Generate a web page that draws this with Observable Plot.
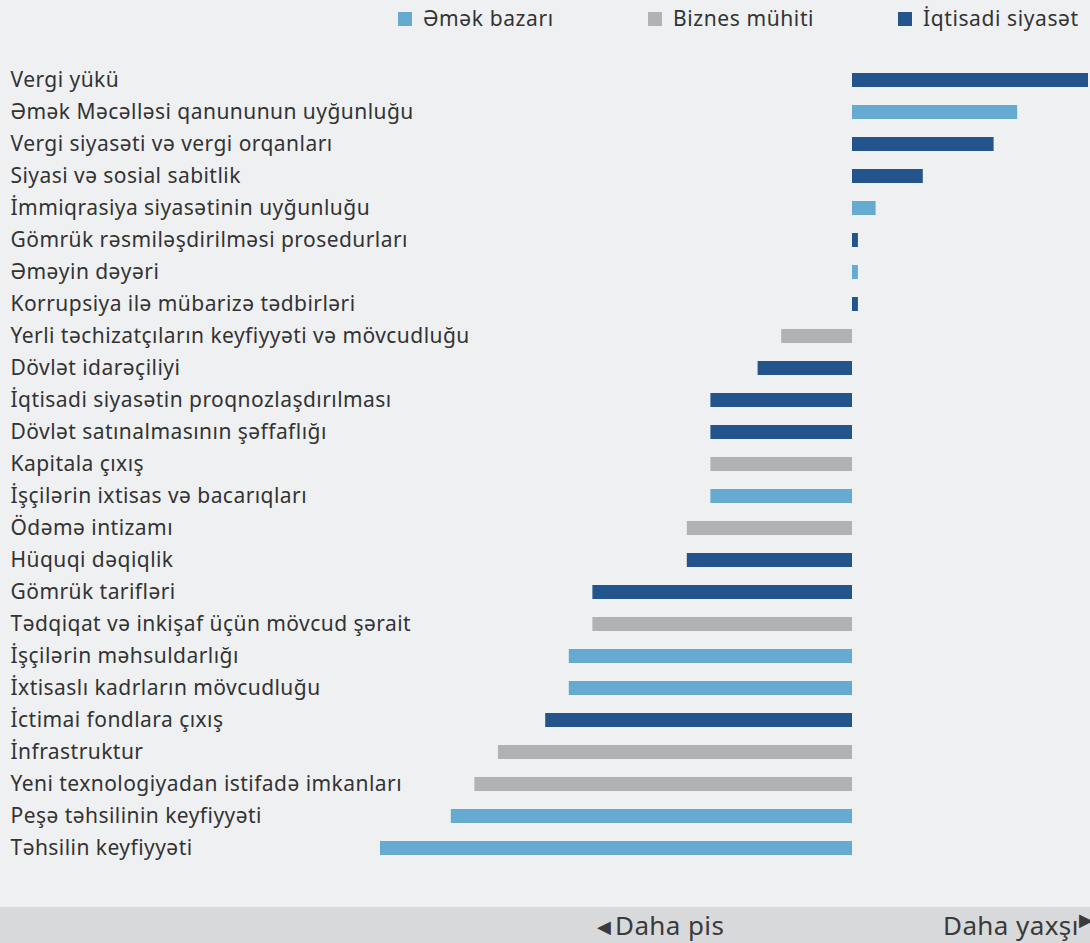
<!DOCTYPE html>
<html>
<head>
<meta charset="utf-8">
<script src="https://cdn.jsdelivr.net/npm/d3@7"></script>
<script src="https://cdn.jsdelivr.net/npm/@observablehq/plot@0.6"></script>
<style>
  html, body { margin: 0; padding: 0; background: #eff0f2; }
  body { width: 1090px; height: 943px; overflow: hidden; font-family: "Noto Sans", sans-serif; color: #333; }
  #legend { position: relative; height: 40px; font-size: 21px; letter-spacing: 0.6px; }
  .lg { position: absolute; top: 4px; white-space: nowrap; }
  .sw { position: absolute; top: 12px; width: 14px; height: 14px; }
  #chart { height: 867px; }
  #band { position: relative; height: 36px; background: #d8d9db; overflow: hidden; font-size: 26px; letter-spacing: 0.4px; color: #3a3a3a; }
  #band span { position: absolute; top: 0px; white-space: nowrap; }
  #band .arr { font-size: 18px; top: 7px; letter-spacing: 0; }
</style>
</head>
<body>
<div id="legend"></div>
<div id="chart"></div>
<div id="band"><span class="arr" style="left:597px">◀</span><span style="left:615px">Daha pis</span><span style="left:943px">Daha yaxşı<span style="font-size:18px">▶</span></span></div>
<script>
const categories = [
  "Vergi yükü",
  "Əmək Məcəlləsi qanununun uyğunluğu",
  "Vergi siyasəti və vergi orqanları",
  "Siyasi və sosial sabitlik",
  "İmmiqrasiya siyasətinin uyğunluğu",
  "Gömrük rəsmiləşdirilməsi prosedurları",
  "Əməyin dəyəri",
  "Korrupsiya ilə mübarizə tədbirləri",
  "Yerli təchizatçıların keyfiyyəti və mövcudluğu",
  "Dövlət idarəçiliyi",
  "İqtisadi siyasətin proqnozlaşdırılması",
  "Dövlət satınalmasının şəffaflığı",
  "Kapitala çıxış",
  "İşçilərin ixtisas və bacarıqları",
  "Ödəmə intizamı",
  "Hüquqi dəqiqlik",
  "Gömrük tarifləri",
  "Tədqiqat və inkişaf üçün mövcud şərait",
  "İşçilərin məhsuldarlığı",
  "İxtisaslı kadrların mövcudluğu",
  "İctimai fondlara çıxış",
  "İnfrastruktur",
  "Yeni texnologiyadan istifadə imkanları",
  "Peşə təhsilinin keyfiyyəti",
  "Təhsilin keyfiyyəti"
];
const values = [10, 7, 6, 3, 1, 0.25, 0.25, 0.25, -3, -4, -6, -6, -6, -6, -7, -7, -11, -11, -12, -12, -13, -15, -16, -17, -20];
const groups = [
  "İqtisadi siyasət", "Əmək bazarı", "İqtisadi siyasət", "İqtisadi siyasət", "Əmək bazarı",
  "İqtisadi siyasət", "Əmək bazarı", "İqtisadi siyasət", "Biznes mühiti", "İqtisadi siyasət",
  "İqtisadi siyasət", "İqtisadi siyasət", "Biznes mühiti", "Əmək bazarı", "Biznes mühiti",
  "İqtisadi siyasət", "İqtisadi siyasət", "Biznes mühiti", "Əmək bazarı", "Əmək bazarı",
  "İqtisadi siyasət", "Biznes mühiti", "Biznes mühiti", "Əmək bazarı", "Əmək bazarı"
];
const seriesNames = ["Əmək bazarı", "Biznes mühiti", "İqtisadi siyasət"];
const seriesColors = ["#65aacf", "#b1b2b4", "#23548c"];

const data = categories.map((name, i) => ({name, value: values[i], group: groups[i]}));

// legend
const legend = document.getElementById("legend");
const legendX = [398, 648, 898];
seriesNames.forEach((s, i) => {
  const sw = document.createElement("div");
  sw.className = "sw";
  sw.style.left = legendX[i] + "px";
  sw.style.background = seriesColors[i];
  legend.appendChild(sw);
  const t = document.createElement("span");
  t.className = "lg";
  t.style.left = (legendX[i] + 25) + "px";
  t.textContent = s;
  legend.appendChild(t);
});

const plot = Plot.plot({
  width: 1090,
  height: 867,
  marginLeft: 380,
  marginRight: 2,
  marginTop: 33,
  marginBottom: 52,
  style: {background: "transparent", fontFamily: "Noto Sans, sans-serif", fontSize: "21px", color: "#333"},
  x: {domain: [-20, 10], axis: null},
  y: {domain: categories, axis: null, paddingInner: 0.5625, paddingOuter: 0},
  color: {domain: seriesNames, range: seriesColors},
  marks: [
    Plot.barX(data, {x: "value", y: "name", fill: "group"}),
    Plot.text(data, {y: "name", text: "name", frameAnchor: "left", dx: -370, textAnchor: "start", fill: "#333", fontSize: 21, style: "letter-spacing:0.45px"})
  ]
});
plot.querySelectorAll("text").forEach(t => t.style.letterSpacing = "0.45px");
document.getElementById("chart").appendChild(plot);
</script>
</body>
</html>
